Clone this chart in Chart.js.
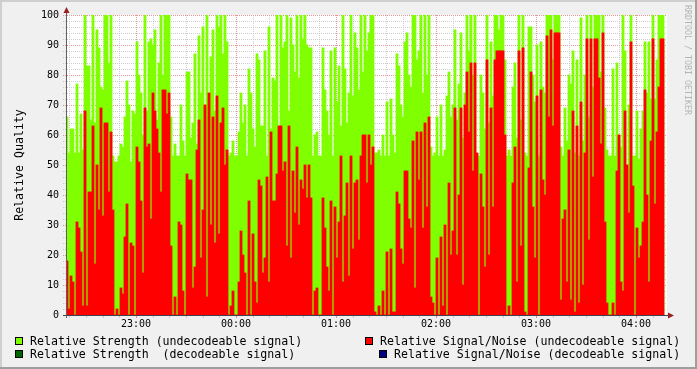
<!DOCTYPE html>
<html><head><meta charset="utf-8">
<script src="https://cdn.jsdelivr.net/npm/chart.js@4.4.1/dist/chart.umd.min.js"></script>
<style>
html,body{margin:0;padding:0;background:#f0f0f0;}
#wrap{position:relative;width:697px;height:369px;overflow:hidden;}
canvas{position:absolute;left:0;top:0;}
.lg{position:absolute;font-family:'DejaVu Sans Mono',monospace;font-size:11.6px;line-height:14px;white-space:pre;color:#000;}
.bx{position:absolute;width:8px;height:8px;box-sizing:border-box;border:1px solid #000;}
#wm{position:absolute;left:683px;top:5px;writing-mode:vertical-rl;font-family:'DejaVu Sans Mono',monospace;font-size:8.3px;line-height:10px;color:#b4b4b4;white-space:pre;}
</style></head><body>
<div id="wrap"><canvas id="c" width="697" height="369"></canvas></div>
<script>
// ---- data ----
const seriesNames = [
  'Relative Strength (undecodeable signal)',
  'Relative Strength  (decodeable signal)',
  'Relative Signal/Noise (undecodeable signal)',
  'Relative Signal/Noise (decodeable signal)'
];
const sampleStartMin = 18;   // minutes after 22:00 (22:18)
const sampleStepMin = 1.2;
const xTickMinutes = [60, 120, 180, 240, 300, 360];
const xTickLabels = ['23:00', '00:00', '01:00', '02:00', '03:00', '04:00'];

const strengthUndecodeable = [
66,54,62,62,54,77,54,67,55,100,83,83,65,100,64,95,89,76,75,100,100,84,100,53,51,51,53,57,56,66,78,70,51,68,67,91,80,74,60,100,68,91,92,90,95,65,84,100,80,100,
100,100,66,53,57,53,53,70,58,53,81,81,59,64,87,57,93,74,96,70,100,73,86,95,68,100,96,100,87,100,91,53,54,58,53,53,61,74,64,70,53,82,74,62,56,87,85,63,63,88,53,96,62,79,
78,100,63,100,89,91,100,68,99,90,81,100,79,100,92,100,90,89,89,53,60,61,53,53,89,75,68,60,88,53,89,71,83,63,100,82,64,74,100,73,94,89,75,100,81,100,88,94,100,100,54,54,55,
53,60,53,71,53,72,60,54,87,83,70,66,91,94,80,76,100,100,85,88,100,74,100,80,100,56,53,54,66,53,70,53,55,73,81,66,70,95,65,77,94,59,74,100,88,100,80,100,53,53,80,74,62,
100,64,91,73,100,100,95,100,100,85,53,55,53,76,84,59,100,65,100,54,53,96,96,80,71,90,53,91,76,74,100,100,100,85,100,100,100,56,53,69,58,80,77,88,54,85,53,99,58,80,100,66,
100,76,100,100,100,81,100,69,55,53,53,82,53,84,60,56,100,88,50,70,100,53,53,68,52,62,68,91,74,91,72,100,72,85,100,100,100
];
const snrUndecodeable = [
18,2,13,11,0,31,29,21,3,68,3,41,41,63,17,50,35,69,33,64,64,41,61,35,0,2,0,9,7,26,37,0,24,23,0,56,51,38,14,69,56,57,32,74,68,62,54,41,75,75,
67,74,23,0,6,0,31,30,8,0,47,45,45,9,16,55,65,19,35,70,6,74,30,66,24,73,27,64,69,50,55,0,3,8,0,0,11,28,20,14,0,38,0,27,11,4,45,43,14,19,46,11,61,38,
38,47,63,63,48,51,23,63,19,48,34,56,30,45,42,50,39,50,39,0,8,9,0,0,39,29,16,8,38,0,36,19,31,53,11,33,44,13,53,22,44,45,25,53,60,60,44,60,50,56,1,0,3,
0,8,0,21,0,22,1,1,41,37,22,17,48,48,32,29,58,9,61,45,61,29,64,36,66,6,4,0,19,0,26,3,30,0,44,20,28,69,20,40,69,10,70,81,61,84,48,84,54,0,47,36,16,
85,20,69,36,85,88,88,88,88,60,0,3,0,44,56,11,88,23,89,1,0,49,81,36,19,73,0,75,45,40,93,66,95,63,94,94,94,5,32,35,11,55,5,68,1,63,4,71,10,54,92,25,
92,46,92,92,79,57,94,31,4,0,0,4,0,48,60,11,8,68,50,34,91,43,0,29,19,23,31,75,40,11,58,92,37,61,76,92,92
];
const strengthDecodeable = [];
const snrDecodeable = [];

// ---- styles / layout ----
const colors = ['#80ff00', '#006400', '#ff0000', '#000080'];
const legendLayout = [
  {box: [15, 337], text: [30, 334]},
  {box: [15, 350], text: [30, 347]},
  {box: [365, 337], text: [380, 334]},
  {box: [379, 350], text: [394, 347]}
];
const X_MIN = 18, X_MAX = 378.6;

const wrap = document.getElementById('wrap');
seriesNames.forEach((n, i) => {
  const b = document.createElement('div');
  b.className = 'bx';
  b.style.left = legendLayout[i].box[0] + 'px';
  b.style.top = legendLayout[i].box[1] + 'px';
  b.style.background = colors[i];
  wrap.appendChild(b);
  const t = document.createElement('div');
  t.className = 'lg';
  t.style.left = legendLayout[i].text[0] + 'px';
  t.style.top = legendLayout[i].text[1] + 'px';
  t.textContent = n;
  wrap.appendChild(t);
});
const wm = document.createElement('div');
wm.id = 'wm';
wm.textContent = 'RRDTOOL / TOBI OETIKER';
wrap.appendChild(wm);

const toPoints = arr => arr.map((v, i) => ({x: sampleStartMin + sampleStepMin * (i + 0.5), y: v}));

const rrdPlugin = {
  id: 'rrd',
  beforeDraw(chart) {
    const {ctx, chartArea: a} = chart;
    ctx.save();
    ctx.fillStyle = '#f0f0f0'; ctx.fillRect(0, 0, 697, 369);
    ctx.fillStyle = '#cfcfcf'; ctx.fillRect(0, 0, 697, 2); ctx.fillRect(0, 0, 2, 369);
    ctx.fillStyle = '#9e9e9e'; ctx.fillRect(0, 367, 697, 2); ctx.fillRect(695, 0, 2, 369);
    ctx.fillStyle = '#ffffff'; ctx.fillRect(a.left, a.top, a.right - a.left, a.bottom - a.top);
    ctx.restore();
  },
  beforeDatasetsDraw(chart) {
    const {ctx, chartArea: a, scales: {x, y}} = chart;
    const minorC = 'rgba(190,190,190,0.75)', majorC = 'rgba(222,80,80,0.6)';
    ctx.save();
    ctx.lineWidth = 1;
    ctx.setLineDash([1, 1]);
    for (let v = 2; v <= 100; v += 2) {
      const py = Math.round(y.getPixelForValue(v)) + 0.5;
      ctx.strokeStyle = v % 10 === 0 ? majorC : minorC;
      ctx.beginPath(); ctx.moveTo(a.left - 3, py); ctx.lineTo(a.right, py); ctx.stroke();
    }
    for (let t = 20; t <= X_MAX; t += 10) {
      const px = Math.round(x.getPixelForValue(t)) + 0.5;
      ctx.strokeStyle = t % 60 === 0 ? majorC : minorC;
      ctx.beginPath(); ctx.moveTo(px, a.top); ctx.lineTo(px, a.bottom); ctx.stroke();
    }
    ctx.setLineDash([]);
    for (let t = 20; t <= X_MAX; t += 10) {
      const px = Math.round(x.getPixelForValue(t)) + 0.5;
      ctx.strokeStyle = t % 60 === 0 ? majorC : minorC;
      ctx.beginPath(); ctx.moveTo(px, a.bottom); ctx.lineTo(px, a.bottom + 3); ctx.stroke();
    }
    ctx.restore();
  },
  afterDatasetsDraw(chart) {
    const {ctx, chartArea: a} = chart;
    ctx.save();
    ctx.lineWidth = 1;
    ctx.strokeStyle = '#404050';
    const by = a.bottom + 0.5, lx = a.left + 0.5;
    ctx.beginPath(); ctx.moveTo(a.left - 3, by); ctx.lineTo(a.right + 2, by); ctx.stroke();
    ctx.strokeStyle = '#606060';
    ctx.beginPath(); ctx.moveTo(lx, a.bottom + 3); ctx.lineTo(lx, a.top - 4); ctx.stroke();
    ctx.fillStyle = '#9a2020';
    ctx.beginPath(); ctx.moveTo(lx - 3, a.top - 2); ctx.lineTo(lx + 3, a.top - 2); ctx.lineTo(lx, a.top - 8); ctx.closePath(); ctx.fill();
    ctx.beginPath(); ctx.moveTo(a.right + 1, by - 3); ctx.lineTo(a.right + 1, by + 3); ctx.lineTo(a.right + 7, by); ctx.closePath(); ctx.fill();
    ctx.restore();
  }
};

const barCommon = {grouped: false, barPercentage: 1, categoryPercentage: 1, borderWidth: 0, inflateAmount: 0.4};
const monoFont = 'DejaVu Sans Mono';

new Chart(document.getElementById('c'), {
  type: 'bar',
  data: {
    datasets: [
      Object.assign({label: seriesNames[2], data: toPoints(snrUndecodeable), backgroundColor: colors[2], order: 0}, barCommon),
      Object.assign({label: seriesNames[3], data: toPoints(snrDecodeable), backgroundColor: colors[3], order: 1}, barCommon),
      Object.assign({label: seriesNames[0], data: toPoints(strengthUndecodeable), backgroundColor: colors[0], order: 2}, barCommon),
      Object.assign({label: seriesNames[1], data: toPoints(strengthDecodeable), backgroundColor: colors[1], order: 3}, barCommon)
    ]
  },
  options: {
    responsive: false,
    animation: false,
    devicePixelRatio: 1,
    layout: {padding: {top: 15, right: 30, left: 0, bottom: 0}},
    plugins: {legend: {display: false}, tooltip: {enabled: false}},
    scales: {
      x: {
        type: 'linear', min: X_MIN, max: X_MAX, offset: false, bounds: 'data',
        grid: {display: false, drawTicks: false}, border: {display: false},
        afterBuildTicks: s => { s.ticks = xTickMinutes.map(v => ({value: v})); },
        afterFit: s => { s.height = 54; },
        ticks: {autoSkip: false, maxRotation: 0, padding: 3, color: '#000',
          font: {family: monoFont, size: 10},
          callback: (v, i) => xTickLabels[i]}
      },
      y: {
        min: 0, max: 100,
        grid: {display: false, drawTicks: false}, border: {display: false},
        afterFit: s => { s.width = 66; },
        ticks: {stepSize: 10, padding: 7, color: '#000', font: {family: monoFont, size: 10}},
        title: {display: true, text: 'Relative Quality', color: '#000',
          font: {family: monoFont, size: 11.6}, padding: {top: 13, bottom: 0}}
      }
    }
  },
  plugins: [rrdPlugin]
});
</script>
</body></html>
